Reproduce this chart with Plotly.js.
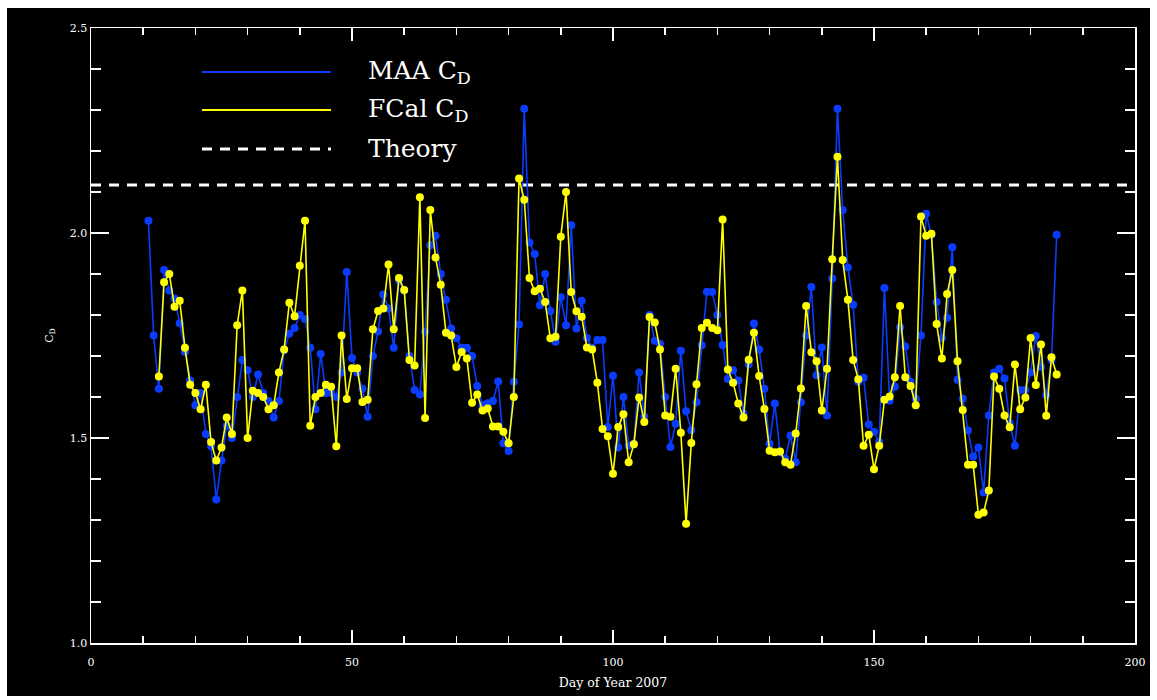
<!DOCTYPE html>
<html><head><meta charset="utf-8">
<script src="https://cdn.plot.ly/plotly-3.0.1.min.js"></script>
<style>
html,body{margin:0;padding:0;background:#fff;width:1157px;height:700px;overflow:hidden}
#chart{position:absolute;left:7px;top:8px;width:1143px;height:688px;background:#000}
</style></head><body><div id="chart"></div>
<script>
// ---- data ----
const maaDays = [11,12,13,14,15,16,17,18,19,20,21,22,23,24,25,26,27,28,29,30,
  31,32,33,34,35,36,37,38,39,40,41,42,43,44,45,46,47,48,49,50,
  51,52,53,54,55,56,57,58,59,60,61,62,63,64,65,66,67,68,69,70,
  71,72,73,74,75,76,77,78,79,80,81,82,83,84,85,86,87,88,89,90,
  91,92,93,94,95,96,97,98,99,100,101,102,103,104,105,106,107,108,109,110,
  111,112,113,114,115,116,117,118,119,120,121,122,123,124,125,126,127,128,129,130,
  131,132,133,134,135,136,137,138,139,140,141,142,143,144,145,146,147,148,149,150,
  151,152,153,154,155,156,157,158,159,160,161,162,163,164,165,166,167,168,169,170,
  171,172,173,174,175,176,177,178,179,180,181,182,183,184,185];
const maaCd = [2.03,1.75,1.62,1.91,1.86,1.84,1.78,1.71,1.64,1.58,1.61,1.51,1.48,1.35,1.445,1.53,1.50,1.60,1.69,1.665,
  1.60,1.655,1.61,1.59,1.55,1.59,1.714,1.755,1.768,1.80,1.79,1.72,1.57,1.705,1.61,1.61,1.60,1.66,1.905,1.695,
  1.66,1.62,1.552,1.70,1.76,1.85,1.816,1.72,1.884,1.86,1.70,1.617,1.606,1.76,1.97,1.993,1.90,1.837,1.767,1.743,
  1.72,1.72,1.70,1.627,1.58,1.585,1.59,1.638,1.487,1.468,1.637,1.777,2.303,1.977,1.949,1.824,1.90,1.81,1.735,1.843,
  1.775,2.019,1.767,1.835,1.744,1.72,1.739,1.739,1.527,1.652,1.477,1.60,1.482,1.486,1.66,1.552,1.80,1.737,1.73,1.60,
  1.478,1.535,1.713,1.565,1.519,1.587,1.726,1.857,1.856,1.80,1.727,1.644,1.665,1.64,1.56,1.68,1.779,1.716,1.62,1.486,
  1.584,1.465,1.45,1.506,1.441,1.587,1.75,1.868,1.653,1.721,1.555,1.889,2.303,2.056,1.916,1.825,1.637,1.647,1.533,1.515,
  1.49,1.866,1.591,1.625,1.77,1.723,1.637,1.596,1.75,2.047,1.995,1.832,1.743,1.793,1.965,1.642,1.596,1.518,1.455,1.477,
  1.367,1.555,1.66,1.669,1.645,1.536,1.481,1.617,1.617,1.66,1.749,1.674,1.604,1.69,1.996];

const fcalDays = [13,14,15,16,17,18,19,20,21,22,23,24,25,26,27,28,29,30,
  31,32,33,34,35,36,37,38,39,40,41,42,43,44,45,46,47,48,49,50,
  51,52,53,54,55,56,57,58,59,60,61,62,63,64,65,66,67,68,69,70,
  71,72,73,74,75,76,77,78,79,80,81,82,83,84,85,86,87,88,89,90,
  91,92,93,94,95,96,97,98,99,100,101,102,103,104,105,106,107,108,109,110,
  111,112,113,114,115,116,117,118,119,120,121,122,123,124,125,126,127,128,129,130,
  131,132,133,134,135,136,137,138,139,140,141,142,143,144,145,146,147,148,149,150,
  151,152,153,154,155,156,157,158,159,160,161,162,163,164,165,166,167,168,169,170,
  171,172,173,174,175,176,177,178,179,180,181,182,183,184,185];
const fcalCd = [1.65,1.88,1.90,1.82,1.835,1.72,1.63,1.61,1.57,1.63,1.49,1.445,1.477,1.55,1.51,1.775,1.86,1.50,
  1.615,1.61,1.60,1.57,1.58,1.66,1.716,1.83,1.797,1.92,2.03,1.53,1.60,1.61,1.63,1.625,1.48,1.75,1.595,1.67,
  1.67,1.588,1.593,1.765,1.81,1.816,1.923,1.765,1.89,1.861,1.69,1.677,2.087,1.549,2.056,1.94,1.874,1.757,1.75,1.673,
  1.71,1.694,1.586,1.606,1.567,1.572,1.528,1.528,1.515,1.487,1.60,2.133,2.081,1.89,1.858,1.864,1.832,1.743,1.747,1.991,
  2.10,1.856,1.809,1.796,1.721,1.716,1.635,1.522,1.504,1.413,1.527,1.558,1.441,1.485,1.599,1.539,1.795,1.782,1.716,1.555,
  1.552,1.669,1.513,1.291,1.488,1.631,1.768,1.781,1.768,1.763,2.033,1.667,1.635,1.584,1.55,1.691,1.757,1.651,1.571,1.469,
  1.465,1.467,1.441,1.435,1.511,1.621,1.822,1.709,1.687,1.567,1.669,1.936,2.186,1.934,1.837,1.69,1.643,1.481,1.508,1.424,
  1.481,1.593,1.601,1.648,1.822,1.648,1.627,1.58,2.04,1.993,1.998,1.778,1.694,1.851,1.91,1.687,1.568,1.435,1.435,1.313,
  1.318,1.372,1.65,1.62,1.555,1.526,1.679,1.57,1.599,1.744,1.629,1.728,1.554,1.697,1.655];

const theoryCd = 2.117;
const theoryX = [0, 200];
const seriesNames = ['MAA C<sub>D</sub>', 'FCal C<sub>D</sub>', 'Theory'];
const xTitle = 'Day of Year 2007';
const yTitle = 'C<sub>D</sub>';

// ---- styles ----
const BLUE = '#0a3cff', YELLOW = '#ffff00', WHITE = '#ffffff';
const serif = 'DejaVu Serif, Liberation Serif, serif';

const traces = [
  {x: theoryX, y: [theoryCd, theoryCd], mode: 'lines', name: seriesNames[2],
   line: {color: WHITE, width: 3, dash: '10px,8px'}, hoverinfo: 'skip'},
  {x: maaDays, y: maaCd, mode: 'lines+markers', name: seriesNames[0],
   line: {color: BLUE, width: 1.6}, marker: {color: BLUE, size: 8}},
  {x: fcalDays, y: fcalCd, mode: 'lines+markers', name: seriesNames[1],
   line: {color: YELLOW, width: 1.6}, marker: {color: YELLOW, size: 8}}
];

const axisCommon = {
  showgrid: false, zeroline: false, showline: true, linecolor: WHITE, linewidth: 1.5,
  mirror: 'allticks', ticks: 'inside', tickcolor: WHITE, tickwidth: 1.5,
  tickfont: {family: serif, size: 11, color: WHITE}
};

// legend drawn in paper coords
const legY = [0.9285, 0.8667, 0.8033];
const legColors = [BLUE, YELLOW, WHITE];
const shapes = legY.map((yy, i) => ({
  type: 'line', xref: 'paper', yref: 'paper', x0: 0.1063, x1: 0.2299, y0: yy, y1: yy,
  line: {color: legColors[i], width: i === 2 ? 3 : 2, dash: i === 2 ? '10px,8px' : 'solid'}
}));
const annotations = legY.map((yy, i) => ({
  xref: 'paper', yref: 'paper', x: 0.2634, y: yy, xanchor: 'left', yanchor: 'middle',
  text: seriesNames[i], showarrow: false, font: {family: serif, size: 25, color: WHITE}
}));

const layout = {
  width: 1143, height: 688,
  paper_bgcolor: '#000', plot_bgcolor: '#000',
  margin: {l: 84, r: 15, t: 20, b: 53},
  showlegend: false,
  xaxis: Object.assign({}, axisCommon, {
    range: [0, 200], dtick: 50, tick0: 0, ticklen: 13, ticklabelstandoff: 8,
    minor: {dtick: 10, tick0: 0, ticks: 'inside', ticklen: 7, tickwidth: 1.5, tickcolor: WHITE, showgrid: false},
    title: {text: xTitle, font: {family: serif, size: 12.5, color: WHITE}, standoff: 10}
  }),
  yaxis: Object.assign({}, axisCommon, {
    range: [1.0, 2.5], dtick: 0.5, tick0: 1.0, tickformat: '.1f', ticklen: 18,
    minor: {dtick: 0.1, tick0: 1.0, ticks: 'inside', ticklen: 10, tickwidth: 1.5, tickcolor: WHITE, showgrid: false},
    title: {text: yTitle, font: {family: serif, size: 11, color: WHITE}, standoff: 14}
  }),
  shapes: shapes,
  annotations: annotations
};

Plotly.newPlot('chart', traces, layout, {displayModeBar: false, staticPlot: true});
</script></body></html>
